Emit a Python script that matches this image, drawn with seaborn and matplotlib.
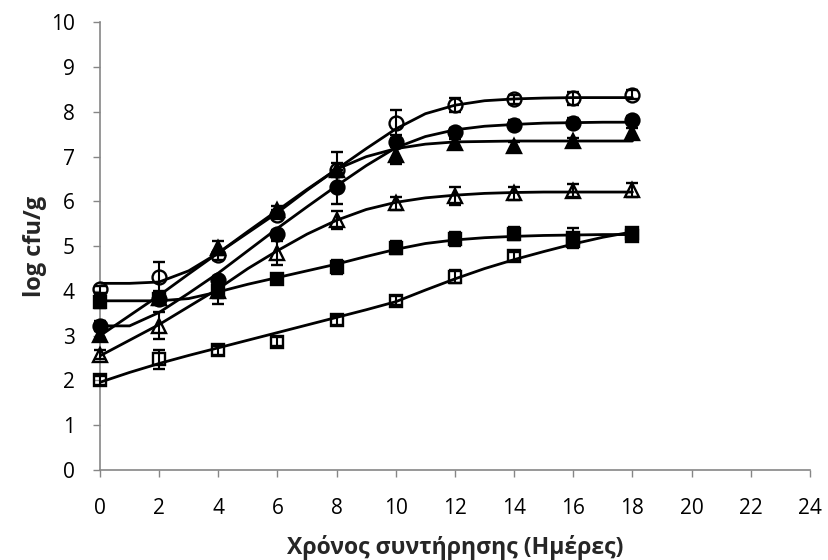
import pandas as pd
import matplotlib.pyplot as plt
import seaborn as sns

# Μετρήσεις (ημέρες 0-18)
days = [0, 2, 4, 6, 8, 10, 12, 14, 16, 18]

open_circle = [4.04, 4.32, 4.80, 5.70, 6.70, 7.76, 8.15, 8.28, 8.30, 8.38]
filled_circle = [3.22, 3.82, 4.24, 5.27, 6.33, 7.32, 7.55, 7.71, 7.76, 7.82]
filled_triangle = [3.02, 3.85, 4.96, 5.80, 6.70, 7.04, 7.30, 7.24, 7.34, 7.54]
open_triangle = [2.57, 3.22, 4.00, 4.85, 5.59, 5.96, 6.12, 6.18, 6.24, 6.26]
filled_square = [3.76, 3.82, 4.00, 4.27, 4.54, 4.97, 5.16, 5.28, 5.18, 5.29]
open_square = [2.00, 2.47, 2.68, 2.87, 3.35, 3.78, 4.32, 4.78, 5.12, 5.23]

err_open_circle = [0.08, 0.33, 0.10, 0.10, 0.40, 0.28, 0.15, 0.10, 0.15, 0.10]
err_filled_circle = [0.10, 0.10, 0.10, 0.10, 0.38, 0.10, 0.10, 0.10, 0.10, 0.10]
err_filled_triangle = [0.08, 0.10, 0.15, 0.10, 0.15, 0.20, 0.10, 0.08, 0.08, 0.10]
err_open_triangle = [0.10, 0.30, 0.15, 0.27, 0.20, 0.15, 0.20, 0.15, 0.15, 0.15]
err_filled_square = [0.15, 0.10, 0.29, 0.10, 0.15, 0.15, 0.15, 0.15, 0.22, 0.10]
err_open_square = [0.10, 0.21, 0.10, 0.10, 0.10, 0.10, 0.15, 0.10, 0.10, 0.10]

# Καμπύλες προσαρμογής (τιμές ανά ημέρα)
fit_days = list(range(19))
fit_open_circle = [4.17, 4.17, 4.20, 4.45, 4.85, 5.30, 5.75, 6.25, 6.72, 7.18, 7.62, 7.96, 8.15, 8.25, 8.29, 8.31, 8.32, 8.32, 8.32]
fit_filled_circle = [3.22, 3.22, 3.52, 3.95, 4.40, 4.90, 5.40, 5.88, 6.35, 6.80, 7.20, 7.45, 7.60, 7.68, 7.72, 7.75, 7.76, 7.77, 7.77]
fit_filled_triangle = [3.00, 3.45, 3.90, 4.38, 4.85, 5.33, 5.80, 6.27, 6.72, 7.00, 7.18, 7.28, 7.33, 7.34, 7.35, 7.35, 7.35, 7.35, 7.35]
fit_open_triangle = [2.55, 2.90, 3.25, 3.65, 4.05, 4.50, 4.90, 5.27, 5.58, 5.82, 5.98, 6.08, 6.14, 6.18, 6.20, 6.21, 6.21, 6.21, 6.21]
fit_filled_square = [3.78, 3.78, 3.78, 3.83, 3.98, 4.15, 4.30, 4.45, 4.60, 4.77, 4.93, 5.06, 5.14, 5.19, 5.22, 5.24, 5.25, 5.26, 5.26]
fit_open_square = [1.96, 2.18, 2.38, 2.56, 2.73, 2.90, 3.07, 3.24, 3.41, 3.58, 3.76, 4.02, 4.27, 4.50, 4.70, 4.88, 5.05, 5.20, 5.32]

series = [
    ("open_circle", open_circle, err_open_circle, fit_open_circle, "o", "none", 10),
    ("filled_circle", filled_circle, err_filled_circle, fit_filled_circle, "o", "black", 10),
    ("filled_triangle", filled_triangle, err_filled_triangle, fit_filled_triangle, "^", "black", 10.5),
    ("open_triangle", open_triangle, err_open_triangle, fit_open_triangle, "^", "none", 10.5),
    ("filled_square", filled_square, err_filled_square, fit_filled_square, "s", "black", 8.8),
    ("open_square", open_square, err_open_square, fit_open_square, "s", "none", 8.8),
]

fits = pd.concat(
    [pd.DataFrame({"day": fit_days, "log": f, "series": name}) for name, _, _, f, _, _, _ in series],
    ignore_index=True,
)

sns.set_theme(style="ticks")
plt.rcParams["font.family"] = ["Open Sans", "DejaVu Sans"]

fig, ax = plt.subplots(figsize=(8.29, 5.6), dpi=100)
fig.subplots_adjust(left=0.1206, right=0.977, bottom=0.1607, top=0.96)

sns.lineplot(data=fits, x="day", y="log", units="series", estimator=None,
             color="black", linewidth=2.0, ax=ax, legend=False)

for name, vals, errs, _, mk, face, ms in series:
    ax.errorbar(days, vals, yerr=errs, fmt=mk, color="black", mfc=face, mec="black",
                mew=1.7, ms=ms, ecolor="black", elinewidth=1.5, capsize=4.5, capthick=1.5,
                zorder=3, clip_on=False)

ax.set_xlim(0, 24)
ax.set_ylim(0, 10)
ax.set_xticks(range(0, 25, 2))
ax.set_yticks(range(0, 11))
ax.set_xlabel("Χρόνος συντήρησης (Ημέρες)", fontsize=16.6, fontweight="bold", labelpad=12)
ax.set_ylabel("log cfu/g", fontsize=17, fontweight="bold", labelpad=3)
ax.tick_params(labelsize=15, colors="#868686", labelcolor="black", length=5, width=1)
ax.tick_params(axis="x", pad=15)
ax.tick_params(axis="y", pad=13)
for s in ["left", "bottom"]:
    ax.spines[s].set_color("#868686")
    ax.spines[s].set_linewidth(1.2)
sns.despine(ax=ax)

plt.savefig("out.png", dpi=100)
